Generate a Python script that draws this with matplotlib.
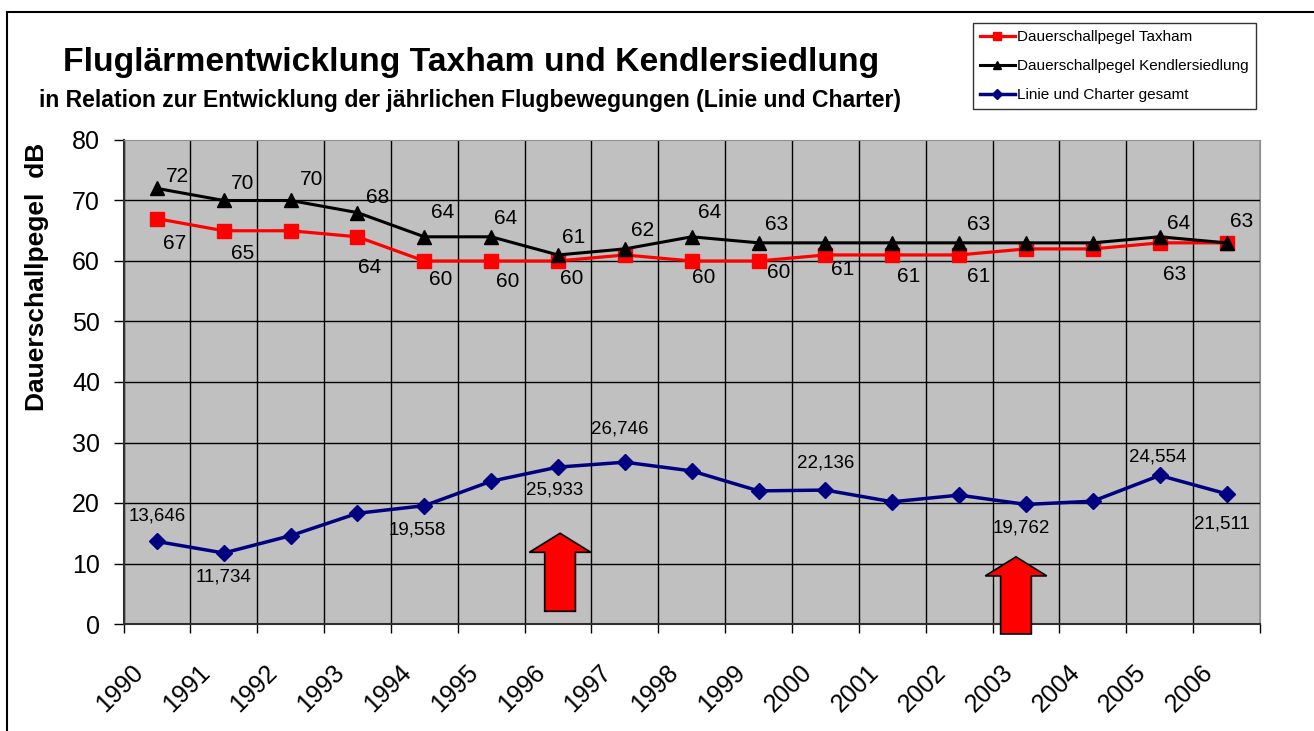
import numpy as np
import matplotlib.pyplot as plt
import matplotlib.transforms as mtransforms
from matplotlib.patches import FancyArrow, Rectangle

plt.rcParams['font.family'] = ['Liberation Sans', 'DejaVu Sans']

# data
years = [str(y) for y in range(1990, 2007)]
taxham = [67, 65, 65, 64, 60, 60, 60, 61, 60, 60, 61, 61, 61, 62, 62, 63, 63]
kendler = [72, 70, 70, 68, 64, 64, 61, 62, 64, 63, 63, 63, 63, 63, 63, 64, 63]
# flight movements (line + charter), in thousands
flights = [13.646, 11.734, 14.6, 18.3, 19.558, 23.6, 25.933, 26.746, 25.3,
           22.0, 22.136, 20.2, 21.3, 19.762, 20.3, 24.554, 21.511]

# which points carry a value label, with label offset in pixels (dx, dy up)
kendler_lbl = {0: (21, 12), 1: (19, 17), 2: (21, 21), 3: (20, 15), 4: (18, 24),
               5: (14, 18), 6: (16, 17), 7: (18, 18), 8: (18, 24), 9: (18, 18),
               12: (19, 18), 15: (19, 13), 16: (15, 21)}
taxham_lbl = {0: (18, -25), 1: (19, -23), 3: (12, -31), 4: (16, -19), 5: (16, -21),
              6: (14, -18), 8: (12, -17), 9: (20, -12), 10: (17, -15),
              11: (16, -22), 12: (19, -22), 15: (15, -32)}
flights_lbl = {0: (0, 25), 1: (0, -24), 4: (-7, -24), 6: (-3, -23), 7: (-5, 33),
               10: (0, 27), 13: (-5, -24), 15: (-2, 18), 16: (-5, -30)}

W, H = 1314, 731
fig = plt.figure(figsize=(W / 100, H / 100), dpi=100)
ax = fig.add_axes([123.5 / W, 1 - 624 / H, (1260 - 123.5) / W, (624 - 140) / H])
ax.set_facecolor('#c0c0c0')

x = np.arange(len(years))
ax.plot(x, taxham, color='#ff0000', lw=2.3, marker='s', ms=9.5, zorder=4,
        label='Dauerschallpegel Taxham')
ax.plot(x, kendler, color='black', lw=2.2, marker='^', ms=10, zorder=5,
        label='Dauerschallpegel Kendlersiedlung')
ax.plot(x, flights, color='#000080', lw=2.5, marker='D', ms=8, zorder=4,
        label='Linie und Charter gesamt')

for i, (dx, dy) in kendler_lbl.items():
    ax.annotate(str(kendler[i]), (x[i], kendler[i]), xytext=(dx, dy),
                textcoords='offset pixels', ha='center', va='center', fontsize=15, zorder=6)
for i, (dx, dy) in taxham_lbl.items():
    ax.annotate(str(taxham[i]), (x[i], taxham[i]), xytext=(dx, dy),
                textcoords='offset pixels', ha='center', va='center', fontsize=15, zorder=6)
for i, (dx, dy) in flights_lbl.items():
    ax.annotate(f'{flights[i]:.3f}'.replace('.', ','), (x[i], flights[i]), xytext=(dx, dy),
                textcoords='offset pixels', ha='center', va='center', fontsize=13.5, zorder=6)

# red block arrows
for ax_x, y0, dy in [(6.03, 2.1, 12.9), (12.85, -1.65, 12.75)]:
    ax.add_patch(FancyArrow(ax_x, y0, 0, dy, width=0.46, head_width=0.92, head_length=3.15,
                            length_includes_head=True, facecolor='#ff0000', edgecolor='black',
                            lw=1.2, zorder=7, clip_on=False))

# axes
ax.set_xlim(-0.5, len(years) - 0.5)
ax.set_ylim(0, 80)
ax.set_yticks(range(0, 81, 10))
ax.tick_params(axis='y', labelsize=18, length=7, width=1, direction='out', pad=10)
ax.set_xticks(x)
ax.set_xticklabels(years, rotation=45, ha='right', va='center', rotation_mode='anchor',
                   fontsize=18)
ax.set_xticks(np.arange(-0.5, len(years)), minor=True)
ax.tick_params(axis='x', which='major', length=0, pad=32)
ax.tick_params(axis='x', which='minor', length=6.5, width=1, direction='out')
shift = mtransforms.ScaledTranslation(-17 / 100, 0, fig.dpi_scale_trans)
for lbl in ax.get_xticklabels():
    lbl.set_transform(lbl.get_transform() + shift)

ax.set_axisbelow(True)
ax.grid(axis='y', which='major', color='black', lw=1)
ax.grid(axis='x', which='minor', color='black', lw=1)
ax.yaxis.get_gridlines()[-1].set_visible(False)
for spine in ['top', 'right']:
    ax.spines[spine].set_color('#909090')
for spine in ['left', 'bottom']:
    ax.spines[spine].set_color('#303030')
    ax.spines[spine].set_linewidth(1.5)

# titles
fig.text(471 / W, 1 - 62 / H, 'Fluglärmentwicklung Taxham und Kendlersiedlung',
         ha='center', va='center', fontsize=24.3, fontweight='bold')
fig.text(470 / W, 1 - 100 / H,
         'in Relation zur Entwicklung der jährlichen Flugbewegungen (Linie und Charter)',
         ha='center', va='center', fontsize=16.6, fontweight='bold')
fig.text(37 / W, 1 - 277 / H, 'Dauerschallpegel  dB', rotation=90,
         ha='center', va='center', fontsize=19, fontweight='bold')

leg = fig.legend(loc='upper left', bbox_to_anchor=(973 / W, 1 - 23 / H), borderaxespad=0,
                 fontsize=11, frameon=True, fancybox=False, edgecolor='black',
                 handlelength=2.3, handletextpad=0.15, labelspacing=1.0,
                 borderpad=0.45, markerscale=0.6)
leg.get_frame().set_linewidth(1)

# outer chart border
fig.add_artist(Rectangle((7 / W, -0.1), 1.2, 1.1 - 12 / H, transform=fig.transFigure,
                         fill=False, edgecolor='black', lw=1.5))

fig.savefig('out.png', dpi=100)
